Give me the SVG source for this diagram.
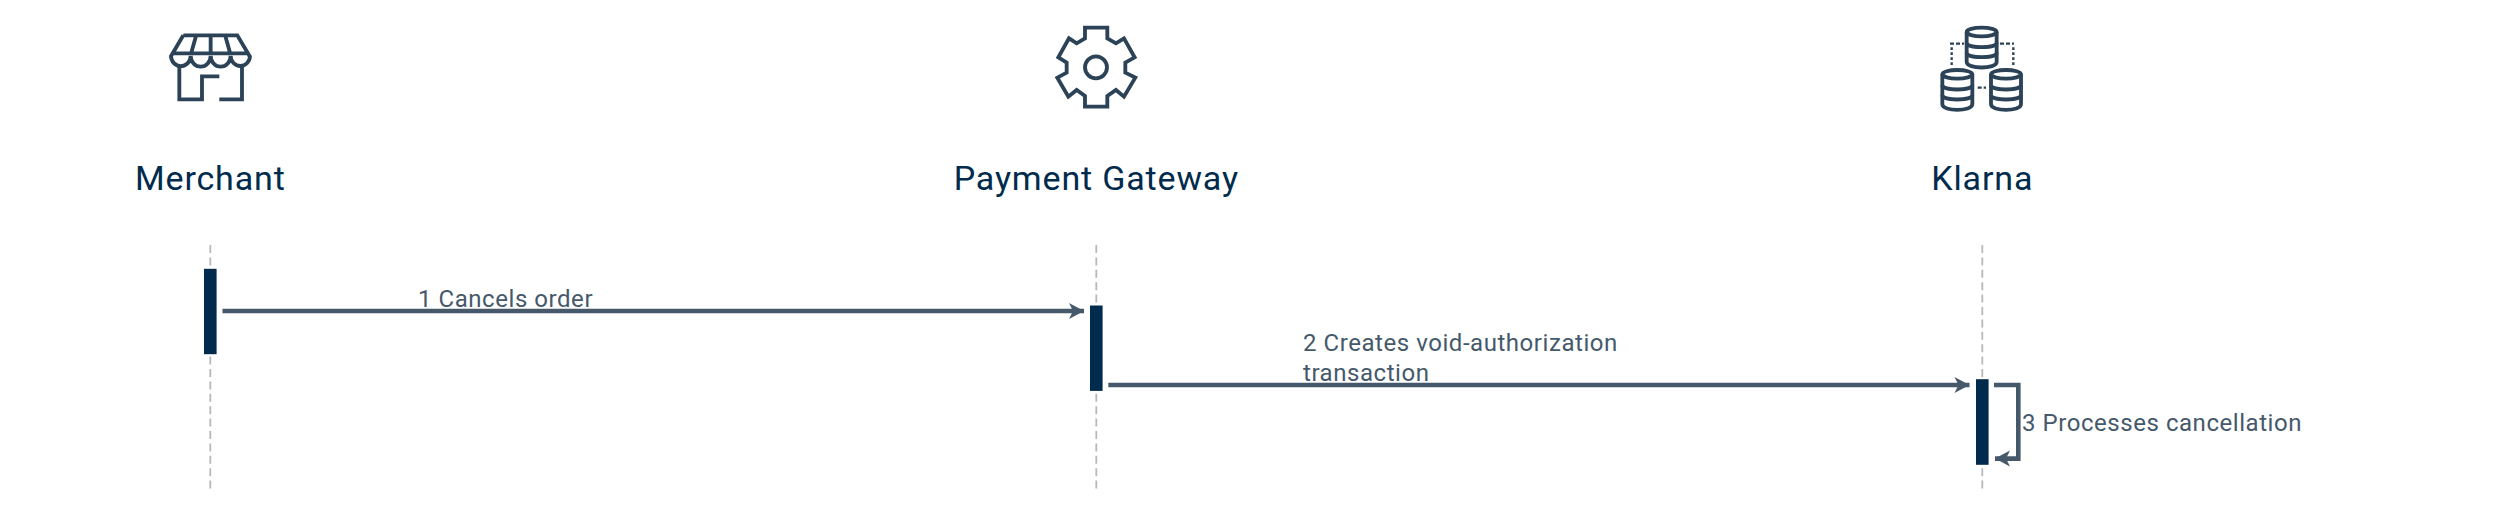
<svg xmlns="http://www.w3.org/2000/svg" width="2520" height="514" viewBox="0 0 2520 514">
<style>
text{font-family:"Roboto","Liberation Sans",sans-serif}
.title{font-size:34px;fill:#002b4c;text-anchor:middle;letter-spacing:.85px}
.msg{font-size:24px;fill:#45596b;letter-spacing:.55px}
.life{stroke:#b4b9bd;stroke-width:1.8;stroke-dasharray:8 4.4;fill:none}
.act{fill:#002b4c}
.conn{fill:none;stroke:#45596b;stroke-width:4.6}
.ico{fill:none;stroke:#2c4257;stroke-width:11.5}
.dot{fill:none;stroke:#2c4257;stroke-width:7}
</style>
<defs>
<marker id="head" markerUnits="userSpaceOnUse" markerWidth="18" markerHeight="18" refX="16" refY="9" orient="auto">
<path d="M1 1 L16 9 L1 17 L5 9 Z" fill="#45596b"/>
</marker>
<g id="cyl">
<path d="M-45 0 V90 C-45 112 45 112 45 90 V0"/>
<ellipse cx="0" cy="0" rx="45" ry="13"/>
<path d="M-45 32 C-45 50 45 50 45 32 M-45 62 C-45 80 45 80 45 62"/>
</g>
</defs>
<g id="lifelines">
<line class="life" x1="210.3" y1="245" x2="210.3" y2="488.5"/>
<line class="life" x1="1096.3" y1="245" x2="1096.3" y2="488.5"/>
<line class="life" x1="1982.3" y1="245" x2="1982.3" y2="488.5"/>
</g>
<g id="merchant">
<g transform="translate(120 10) scale(.3333)" class="ico">
<path d="M190 76 H352 L390 140 M190 76 L152 140 M228 78 L212 135 M272 76 V135 M316 78 L332 135 M158 130 H384"/>
<path d="M153 137 A29 31 0 0 0 212 137 A30 33 0 0 0 272 137 A30 33 0 0 0 332 137 A29 31 0 0 0 390 137"/>
<path d="M178 168 V268 H246 V199 H298 M298 268 H366 V168"/>
</g>
<text class="title" x="210.3" y="189.5">Merchant</text>
<rect class="act" x="204" y="268.8" width="12.6" height="85.4"/>
</g>
<g id="gateway">
<g transform="translate(960 10) scale(.3333)" class="ico">
<path d="M375 53 H442 V85 L468 100 L492 85 L524 142 L496 158 V188 L526 203 L492 260 L468 240 L442 258 V290 H375 V258 L350 240 L325 260 L292 203 L320 188 V158 L295 142 L327 85 L350 100 L375 85 Z"/>
<circle cx="408" cy="172" r="33"/>
</g>
<text class="title" x="1096.3" y="189.5">Payment Gateway</text>
<rect class="act" x="1090" y="305.5" width="12.6" height="85.4"/>
</g>
<g id="klarna">
<g transform="translate(1930 10) scale(.3333)">
<g class="ico">
<use href="#cyl" x="155" y="66"/>
<use href="#cyl" x="82" y="193"/>
<use href="#cyl" x="228" y="193"/>
</g>
<path class="dot" stroke-dasharray="12 6" d="M60 101 H102 M210 101 H252 M143 233 H168"/>
<path class="dot" stroke-dasharray="8 7" d="M65 112 V172 M250 112 V172"/>
</g>
<text class="title" x="1982.3" y="189.5">Klarna</text>
<rect class="act" x="1976" y="379.2" width="12.6" height="85.6"/>
</g>
<g id="connectors">
<line class="conn" x1="222.5" y1="311" x2="1084" y2="311" marker-end="url(#head)"/>
<line class="conn" x1="1108.3" y1="385" x2="1969.5" y2="385" marker-end="url(#head)"/>
<path class="conn" d="M1994 385 H2018.3 V458.6 H1995" marker-end="url(#head)"/>
</g>
<g id="labels">
<text class="msg" x="418" y="306.5">1 Cancels order</text>
<text class="msg" x="1303" y="350.5">2 Creates void-authorization</text>
<text class="msg" x="1303" y="380.5">transaction</text>
<text class="msg" x="2022" y="430.5">3 Processes cancellation</text>
</g>
</svg>
